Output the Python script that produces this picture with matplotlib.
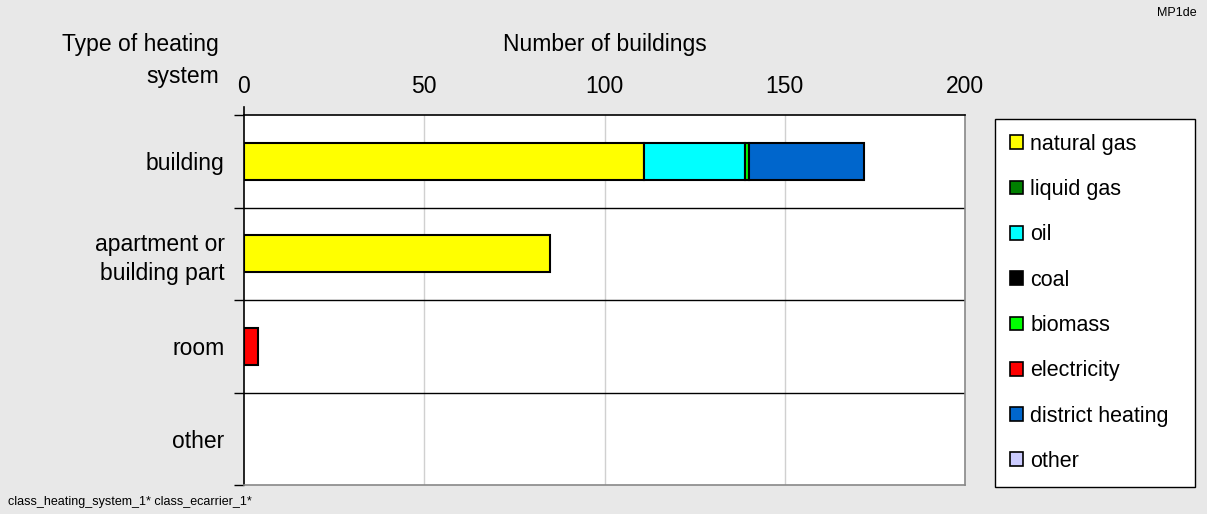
import matplotlib
matplotlib.use("Agg")
import matplotlib.pyplot as plt
import numpy as np
from matplotlib.patches import Patch

categories = ["building", "apartment or\nbuilding part", "room", "other"]
carriers = ["natural gas", "liquid gas", "oil", "coal", "biomass",
            "electricity", "district heating", "other"]
colors = ["#ffff00", "#007f00", "#00ffff", "#000000", "#00ff00",
          "#ff0000", "#0066cc", "#ccccff"]
# values per category (building, apartment, room, other)
natural_gas = [111, 85, 0, 0]
liquid_gas = [0, 0, 0, 0]
oil = [28, 0, 0, 0]
coal = [0, 0, 0, 0]
biomass = [1, 0, 0, 0]
electricity = [0, 0, 4, 0]
district_heating = [32, 0, 0, 0]
other = [0, 0, 0, 0]
series = [natural_gas, liquid_gas, oil, coal, biomass, electricity,
          district_heating, other]
xticks = [0, 50, 100, 150, 200]

plt.rcParams['font.family'] = ['Liberation Sans', 'DejaVu Sans']
bg = "#e8e8e8"
fig = plt.figure(figsize=(12.07, 5.14), dpi=100, facecolor=bg)
ax = fig.add_axes([244/1207, 1-485/514, (965-244)/1207, (485-115)/514])
ax.set_facecolor("white")

ypos = np.arange(len(categories))
left = np.zeros(len(categories))
for vals, col, name in zip(series, colors, carriers):
    vals = np.array(vals, dtype=float)
    mask = vals > 0
    if mask.any():
        ax.barh(ypos[mask], vals[mask], left=left[mask], height=0.4,
                color=col, edgecolor="black", linewidth=1.5, zorder=3)
    left += vals

ax.set_xlim(0, 200)
ax.set_ylim(len(categories) - 0.5, -0.5)
ax.set_xticks(xticks)
ax.xaxis.tick_top()
ax.tick_params(axis='x', length=0, pad=12, labelsize=16.5)
for x in xticks[1:-1]:
    ax.axvline(x, color="#d0d0d0", lw=1, zorder=1)
for b in np.arange(0.5, len(categories) - 1, 1.0):
    ax.axhline(b, color="black", lw=1, zorder=2)

ax.set_yticks(ypos)
ax.set_yticklabels(categories, fontsize=16.5, linespacing=1.3)
ax.tick_params(axis='y', which='major', length=0, pad=14)
ax.set_yticks(np.arange(-0.5, len(categories), 1.0), minor=True)
ax.tick_params(axis='y', which='minor', length=7, width=1, color="black")
for lbl in ax.get_yticklabels():
    lbl.set_horizontalalignment('right')

ax.spines['left'].set_color("black")
ax.spines['top'].set_color("black")
ax.spines['right'].set_color("#888888")
ax.spines['bottom'].set_color("#888888")
for s in ax.spines.values():
    s.set_linewidth(1.2)
ax.plot([0, 0], [-0.5, -0.59], color="black", lw=1.2, clip_on=False)

fig.text(605/1207, 1-45/514, "Number of buildings", ha="center", va="center", fontsize=16.5)
fig.text(219/1207, 1-45/514, "Type of heating", ha="right", va="center", fontsize=16.5)
fig.text(219/1207, 1-76/514, "system", ha="right", va="center", fontsize=16.5)
fig.text(8/1207, 1-502/514, "class_heating_system_1* class_ecarrier_1*", ha="left",
         va="center", fontsize=9)
fig.text(1197/1207, 1-13/514, "MP1de", ha="right", va="center", fontsize=9)

handles = [Patch(facecolor=c, edgecolor="black", linewidth=1.2) for c in colors]
leg = fig.legend(handles, carriers, loc="upper left",
                 bbox_to_anchor=(995/1207, 1-487/514, 200/1207, (487-119)/514),
                 mode="expand", fontsize=15.5, frameon=True, fancybox=False,
                 edgecolor="black", facecolor="white", framealpha=1,
                 handlelength=0.6, handleheight=0.6,
                 handletextpad=0.35, labelspacing=1.13, borderpad=0.68,
                 borderaxespad=0)
leg.get_frame().set_linewidth(1)

fig.savefig("out.png", dpi=100, facecolor=bg)
